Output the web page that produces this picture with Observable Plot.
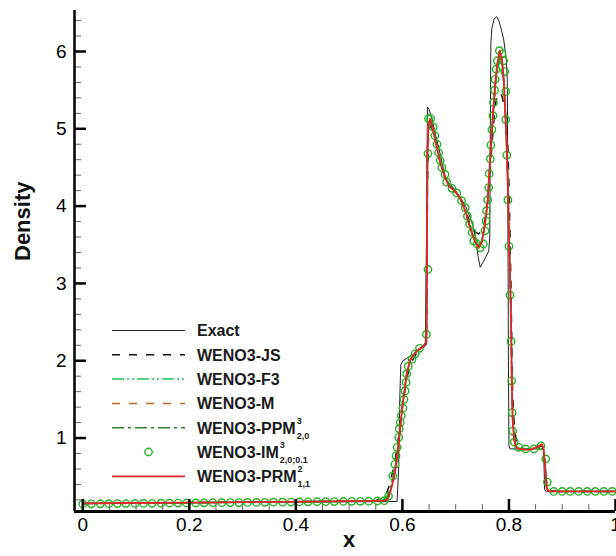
<!DOCTYPE html>
<html><head><meta charset="utf-8">
<script src="https://cdn.jsdelivr.net/npm/d3@7"></script>
<script src="https://cdn.jsdelivr.net/npm/@observablehq/plot@0.6"></script>
<style>
html,body{margin:0;padding:0;background:#fff;overflow:hidden;}
#chart{width:616px;height:556px;overflow:hidden;}
</style></head><body><div id="chart"></div>
<script>
// ---- data ----
const exactX = [0, 0.1, 0.2, 0.3, 0.4, 0.5, 0.57, 0.590, 0.593, 0.595, 0.597, 0.601, 0.61, 0.62, 0.63, 0.64, 0.643, 0.645, 0.647, 0.650, 0.656, 0.66, 0.67, 0.681, 0.690, 0.70, 0.71, 0.72, 0.73, 0.737, 0.742, 0.746, 0.755, 0.762, 0.764, 0.765, 0.766, 0.768, 0.772, 0.777, 0.781, 0.785, 0.790, 0.795, 0.797, 0.798, 0.799, 0.800, 0.802, 0.82, 0.84, 0.86, 0.865, 0.866, 0.867, 0.87, 0.9, 1.0];
const exactY = [0.15, 0.155, 0.16, 0.165, 0.17, 0.175, 0.178, 0.18, 0.6, 1.5, 1.95, 2.0, 2.04, 2.08, 2.13, 2.18, 2.2, 3.5, 5.28, 5.25, 5.12, 4.99, 4.7, 4.36, 4.28, 4.2, 4.1, 3.98, 3.8, 3.6, 3.35, 3.21, 3.32, 3.42, 3.6, 5.0, 6.1, 6.3, 6.42, 6.45, 6.40, 6.3, 6.16, 5.9, 5.6, 4.0, 2.0, 0.9, 0.86, 0.86, 0.86, 0.86, 0.86, 0.6, 0.33, 0.31, 0.31, 0.31];

const numX = [0, 0.1, 0.2, 0.3, 0.4, 0.5, 0.55, 0.565, 0.571, 0.574,
  0.578, 0.583, 0.587, 0.590, 0.595, 0.599, 0.604, 0.608, 0.615, 0.627,
  0.640, 0.645, 0.646, 0.647, 0.649, 0.652, 0.657, 0.662, 0.671, 0.680,
  0.687, 0.696, 0.708, 0.718, 0.727, 0.737, 0.743, 0.749, 0.755, 0.760,
  0.766, 0.770, 0.774, 0.778, 0.783, 0.787, 0.790, 0.793, 0.796, 0.798,
  0.800, 0.802, 0.804, 0.805, 0.806, 0.807, 0.810, 0.814, 0.818, 0.830,
  0.840, 0.848, 0.855, 0.862, 0.865, 0.868, 0.871, 0.876, 0.9, 1.0];

const jsY = [0.155, 0.160, 0.165, 0.171, 0.177, 0.184, 0.19, 0.24, 0.30, 0.36,
  0.46, 0.60, 0.75, 0.88, 1.12, 1.35, 1.58, 1.76, 1.96, 2.10,
  2.18, 2.22, 2.9, 4.3, 4.9, 5.05, 4.98, 4.85, 4.58, 4.38,
  4.27, 4.22, 4.12, 3.96, 3.78, 3.66, 3.64, 3.68, 3.82, 4.05,
  4.60, 4.95, 5.30, 5.42, 5.47, 5.42, 5.33, 5.22, 5.00, 4.75,
  4.3, 3.6, 2.9, 2.4, 1.9, 1.55, 1.15, 0.95, 0.89, 0.86,
  0.86, 0.87, 0.88, 0.90, 0.84, 0.66, 0.40, 0.32, 0.31, 0.31];

const f3Y = [0.155, 0.160, 0.165, 0.171, 0.177, 0.184, 0.188, 0.21, 0.25, 0.30,
  0.40, 0.53, 0.68, 0.82, 1.10, 1.36, 1.62, 1.82, 2.01, 2.13,
  2.19, 2.26, 3.1, 4.6, 5.02, 5.12, 5.02, 4.88, 4.60, 4.40,
  4.28, 4.21, 4.10, 3.95, 3.74, 3.56, 3.50, 3.55, 3.76, 4.04,
  4.70, 5.12, 5.50, 5.75, 5.88, 5.82, 5.62, 5.28, 4.80, 4.35,
  3.8, 3.2, 2.55, 2.0, 1.55, 1.28, 1.00, 0.90, 0.87, 0.86,
  0.86, 0.87, 0.89, 0.91, 0.85, 0.63, 0.36, 0.31, 0.31, 0.31];

const mY = [0.155, 0.160, 0.165, 0.171, 0.177, 0.184, 0.187, 0.195, 0.21, 0.25,
  0.34, 0.47, 0.62, 0.77, 1.06, 1.35, 1.61, 1.82, 2.01, 2.13,
  2.19, 2.24, 3.2, 4.7, 5.05, 5.13, 5.0, 4.84, 4.56, 4.37,
  4.26, 4.21, 4.11, 3.94, 3.72, 3.52, 3.46, 3.53, 3.76, 4.06,
  4.74, 5.17, 5.55, 5.82, 5.98, 5.88, 5.64, 5.22, 4.72, 4.22,
  3.62, 3.1, 2.5, 1.9, 1.5, 1.23, 0.97, 0.88, 0.86, 0.85,
  0.85, 0.87, 0.89, 0.92, 0.85, 0.62, 0.34, 0.31, 0.31, 0.31];

const ppmY = [0.155, 0.160, 0.165, 0.171, 0.177, 0.184, 0.187, 0.20, 0.22, 0.27,
  0.36, 0.50, 0.65, 0.79, 1.08, 1.36, 1.62, 1.83, 2.02, 2.13,
  2.19, 2.25, 3.15, 4.65, 5.03, 5.12, 5.0, 4.85, 4.57, 4.38,
  4.27, 4.21, 4.11, 3.94, 3.73, 3.54, 3.48, 3.54, 3.77, 4.06,
  4.73, 5.15, 5.53, 5.80, 5.93, 5.85, 5.63, 5.24, 4.76, 4.28,
  3.7, 3.15, 2.55, 1.95, 1.52, 1.25, 0.98, 0.89, 0.86, 0.85,
  0.85, 0.87, 0.89, 0.91, 0.85, 0.63, 0.35, 0.31, 0.31, 0.31];

const prmY = [0.155, 0.160, 0.165, 0.171, 0.177, 0.184, 0.188, 0.19, 0.20, 0.23,
  0.32, 0.45, 0.60, 0.75, 1.05, 1.35, 1.61, 1.83, 2.02, 2.13,
  2.19, 2.24, 3.2, 4.7, 5.05, 5.13, 5.0, 4.84, 4.56, 4.37,
  4.26, 4.21, 4.11, 3.94, 3.72, 3.53, 3.46, 3.53, 3.77, 4.07,
  4.76, 5.19, 5.58, 5.84, 6.01, 5.90, 5.66, 5.23, 4.72, 4.2,
  3.6, 3.1, 2.5, 1.9, 1.48, 1.22, 0.96, 0.88, 0.86, 0.85,
  0.85, 0.87, 0.89, 0.92, 0.85, 0.62, 0.34, 0.31, 0.31, 0.31];

const imX = [0.000,0.016,0.033,0.049,0.065,0.081,0.098,0.114,0.130,0.147,
  0.163,0.179,0.195,0.212,0.228,0.244,0.261,0.277,0.293,0.309,
  0.326,0.342,0.358,0.375,0.391,0.407,0.423,0.440,0.456,0.472,
  0.489,0.505,0.521,0.537,0.553,0.566,0.574,0.582,0.586,0.588,
  0.590,0.593,0.594,0.596,0.598,0.601,0.603,0.605,0.607,0.608,
  0.611,0.618,0.624,0.632,0.645,0.648,0.648,0.649,0.653,0.658,
  0.661,0.665,0.668,0.671,0.674,0.680,0.683,0.693,0.702,0.711,
  0.718,0.722,0.726,0.731,0.734,0.740,0.746,0.752,0.755,0.757,
  0.758,0.760,0.762,0.763,0.765,0.766,0.768,0.770,0.771,0.773,
  0.774,0.776,0.778,0.782,0.787,0.790,0.792,0.794,0.794,0.796,
  0.798,0.800,0.802,0.804,0.805,0.806,0.807,0.810,0.818,0.831,
  0.847,0.860,0.869,0.872,0.884,0.900,0.915,0.931,0.947,0.962,
  0.978,0.994];
const imY = [0.148,0.149,0.150,0.151,0.152,0.153,0.154,0.155,0.156,0.157,
  0.158,0.159,0.160,0.161,0.162,0.163,0.164,0.165,0.166,0.167,
  0.168,0.169,0.170,0.171,0.172,0.174,0.175,0.176,0.177,0.178,
  0.180,0.181,0.182,0.184,0.186,0.19,0.25,0.51,0.66,0.77,
  0.88,1.01,1.12,1.20,1.29,1.39,1.50,1.61,1.72,1.83,
  1.93,2.02,2.09,2.16,2.34,3.18,4.68,5.13,5.13,5.02,
  4.91,4.80,4.69,4.59,4.50,4.41,4.31,4.23,4.17,4.07,
  3.98,3.87,3.77,3.66,3.55,3.51,3.46,3.51,3.68,3.81,
  3.94,4.08,4.24,4.42,4.61,4.79,4.99,5.17,5.34,5.50,
  5.64,5.77,5.88,6.01,5.97,5.88,5.74,5.48,5.12,4.66,
  4.08,3.48,2.85,2.25,1.74,1.33,1.09,0.95,0.88,0.86,
  0.86,0.90,0.73,0.43,0.31,0.31,0.31,0.31,0.31,0.31,
  0.31,0.31];

const xDomain = [-0.0155, 1.0];
const yDomain = [0.05, 6.53];
const xTicks = [0, 0.2, 0.4, 0.6, 0.8, 1];
const xTickLabels = ["0", "0.2", "0.4", "0.6", "0.8", "1"];
const xMinorTicks = [0.05, 0.1, 0.15, 0.25, 0.3, 0.35, 0.45, 0.5, 0.55, 0.65, 0.7, 0.75, 0.85, 0.9, 0.95];
const yTicks = [1, 2, 3, 4, 5, 6];
const yTickLabels = ["1", "2", "3", "4", "5", "6"];
const yMinorTicks = [0.2, 0.4, 0.6, 0.8, 1.2, 1.4, 1.6, 1.8, 2.2, 2.4, 2.6, 2.8, 3.2, 3.4, 3.6, 3.8, 4.2, 4.4, 4.6, 4.8, 5.2, 5.4, 5.6, 5.8, 6.2, 6.4];

const legendNames = ["Exact", "WENO3-JS", "WENO3-F3", "WENO3-M", "WENO3-PPM", "WENO3-IM", "WENO3-PRM"];
const legendSup = ["", "", "", "", "3", "3", "2"];
const legendSub = ["", "", "", "", "2,0", "2,0;0.1", "1,1"];

// ---- styles ----
const FONT = "'Liberation Sans', Arial, Helvetica, sans-serif";
const styles = [
  {stroke: "#222", width: 1, dash: null},
  {stroke: "#111", width: 1.5, dash: "8,9"},
  {stroke: "#1fc452", width: 1.5, dash: "12,3,2,3,2,3"},
  {stroke: "#c2681e", width: 1.5, dash: "8,9"},
  {stroke: "#2f7d2f", width: 1.5, dash: "12,4,3,4"},
  {stroke: "#22b522", width: 1.4, marker: true},
  {stroke: "#e0262b", width: 1.8, dash: null}
];

const toRows = (xs, ys) => xs.map((x, i) => ({x, y: ys[i]}));
const exact = toRows(exactX, exactY);
const numSeries = [jsY, f3Y, mY, ppmY].map(ys => toRows(numX, ys));
const im = toRows(imX, imY);
const prm = toRows(numX, prmY);

const lineMark = (data, st) => Plot.line(data, {
  x: "x", y: "y", stroke: st.stroke, strokeWidth: st.width,
  strokeDasharray: st.dash || undefined, strokeLinecap: "butt", strokeLinejoin: "round"
});

const chart = Plot.plot({
  width: 616, height: 556,
  marginLeft: 74, marginRight: 1, marginTop: 10, marginBottom: 45,
  x: {domain: xDomain},
  y: {domain: yDomain},
  style: {fontFamily: FONT, background: "white", color: "black"},
  marks: [
    lineMark(exact, styles[0]),
    lineMark(numSeries[0], styles[1]),
    lineMark(numSeries[1], styles[2]),
    lineMark(numSeries[2], styles[3]),
    lineMark(numSeries[3], styles[4]),
    Plot.dot(im, {x: "x", y: "y", r: 3.7, stroke: styles[5].stroke, strokeWidth: styles[5].width, fill: "none"}),
    lineMark(prm, styles[6]),
    Plot.axisX(xMinorTicks, {tickSize: -7, tickFormat: () => "", stroke: "#666", strokeWidth: 1, label: null}),
    Plot.axisX(xTicks, {tickSize: -12, tickPadding: 18, stroke: "black", strokeWidth: 2.5, fontSize: 19,
      tickFormat: d => xTickLabels[xTicks.indexOf(d)], label: null}),
    Plot.axisY(yMinorTicks, {tickSize: -7, tickFormat: () => "", stroke: "#666", strokeWidth: 1, label: null}),
    Plot.axisY(yTicks, {tickSize: -12, tickPadding: 20, stroke: "black", strokeWidth: 2.5, fontSize: 19,
      tickFormat: d => yTickLabels[yTicks.indexOf(d)], label: null}),
    Plot.ruleX([xDomain[0]], {stroke: "black", strokeWidth: 2.5}),
    Plot.ruleY([yDomain[0]], {stroke: "black", strokeWidth: 3}),
    Plot.text(["Density"], {frameAnchor: "left", dx: -52, rotate: -90, fontSize: 22, fontWeight: "bold", text: d => d, fill: "#111"}),
    Plot.text(["x"], {frameAnchor: "bottom", dx: 4, dy: 35, fontSize: 22, fontWeight: "bold", text: d => d, fill: "#111"})
  ]
});
document.getElementById("chart").appendChild(chart);

// ---- legend inside the plot ----
const lg = d3.select(chart).append("g")
  .attr("font-family", FONT).attr("font-weight", "bold").attr("fill", "#1a1a1a")
  .attr("text-anchor", "start");
const rowY0 = 330.5, rowStep = 24.3, lineX1 = 112, lineX2 = 185, textX = 197;
legendNames.forEach((name, i) => {
  const cy = rowY0 + i * rowStep;
  const st = styles[i];
  if (st.marker) {
    lg.append("circle").attr("cx", (lineX1 + lineX2) / 2).attr("cy", cy).attr("r", 3.7)
      .attr("fill", "none").attr("stroke", st.stroke).attr("stroke-width", st.width);
  } else {
    const l = lg.append("line").attr("x1", lineX1).attr("x2", lineX2).attr("y1", cy).attr("y2", cy)
      .attr("stroke", st.stroke).attr("stroke-width", st.width);
    if (st.dash) l.attr("stroke-dasharray", st.dash);
  }
  const base = cy + 5.8;
  const t = lg.append("text").attr("x", textX).attr("y", base).attr("font-size", 16)
    .attr("text-anchor", "start").text(name);
  if (legendSup[i]) {
    const w = t.node().getComputedTextLength();
    lg.append("text").attr("x", textX + w + 1).attr("y", base - 10).attr("font-size", 9)
      .attr("text-anchor", "start").text(legendSup[i]);
    lg.append("text").attr("x", textX + w + 1).attr("y", base + 5).attr("font-size", 9)
      .attr("text-anchor", "start").text(legendSub[i]);
  }
});
</script>
</body></html>
